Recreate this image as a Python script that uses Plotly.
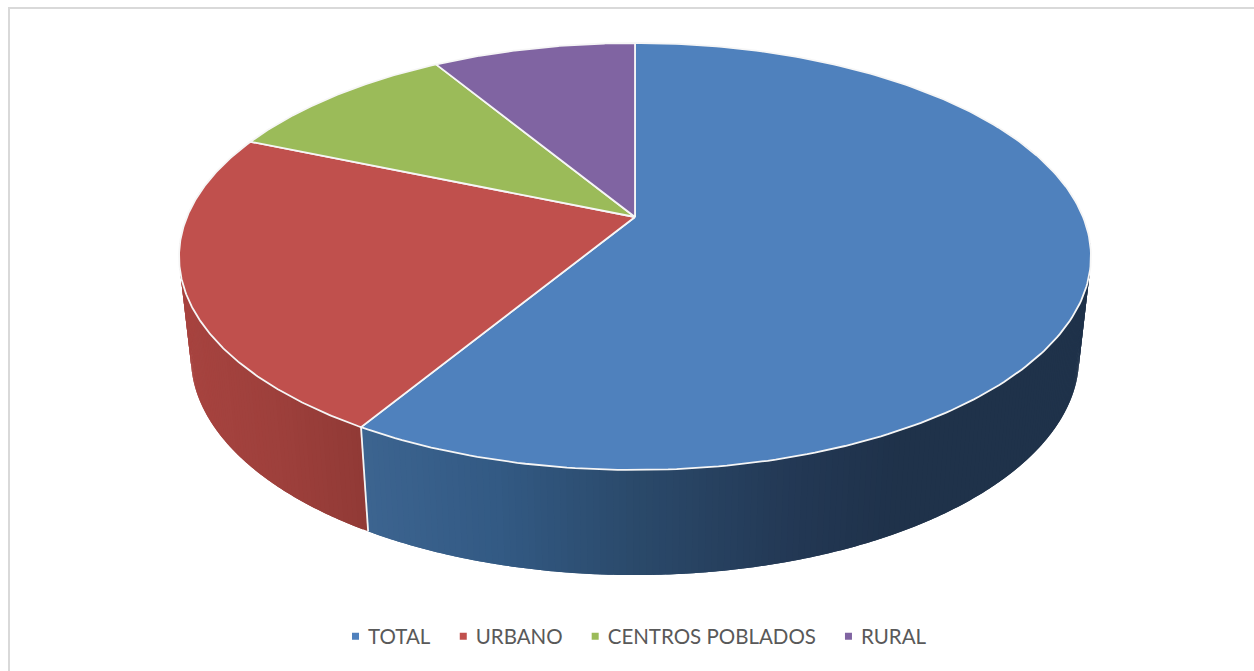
import numpy as np
import plotly.graph_objects as go

categories = ["TOTAL", "URBANO", "CENTROS POBLADOS", "RURAL"]
values = [58.6, 22.8, 10.0, 8.6]
top_colors = ["#4f81bd", "#c0504d", "#9bbb59", "#8064a2"]
# side-face shading stops: (x position, colour rgb)
side_stops = {
    "TOTAL": ([361, 500, 635, 800, 900, 1090],
              [(61, 101, 145), (51, 90, 132), (43, 74, 107), (35, 56, 84), (31, 50, 74), (31, 50, 74)]),
    "URBANO": ([180, 280, 368],
               [(168, 68, 64), (158, 64, 60), (145, 58, 54)]),
}

# projection of the tilted disc into the page
CX, CY = 635.0, 217.0     # apex of the top face
KP = 0.1850
AP, BP = 448.1, 206.2
SBX, SBY, CYB = 0.974, 1.02, 317.0    # bottom face scale and apex height


def project(theta):
    """theta: clockwise angle from 12 o'clock, radians."""
    X, Y = np.sin(theta), -np.cos(theta)
    w = 1 - KP * Y
    return AP * X / w, BP * Y / w


def top_xy(theta):
    dx, dy = project(theta)
    return CX + dx, CY + dy


def bottom_xy(theta):
    dx, dy = project(theta)
    return CX + SBX * dx, CYB + SBY * dy


fig = go.Figure()
bounds = np.concatenate([[0], np.cumsum(values)]) / sum(values) * 2 * np.pi

# side faces (front half only), as thin shaded overlapping strips
for i, name in enumerate(categories):
    if name not in side_stops:
        continue
    xs_stop, cols = side_stops[name]
    cols = np.array(cols, float)
    a0, a1 = bounds[i], bounds[i + 1]
    lo = max(a0, np.radians(60))
    hi = min(a1, np.radians(300))
    n = int((hi - lo) / np.radians(0.7)) + 1
    edges = np.linspace(lo, hi, n + 1)
    step = edges[1] - edges[0]
    for t0, t1 in zip(edges[:-1], edges[1:]):
        tt = np.linspace(t0, min(t1 + step, hi), 4)
        xt, yt = top_xy(tt)
        xb, yb = bottom_xy(tt[::-1])
        xm = (top_xy((t0 + t1) / 2)[0] + bottom_xy((t0 + t1) / 2)[0]) / 2
        c = [np.interp(xm, xs_stop, cols[:, k]) for k in range(3)]
        col = "rgb(%d,%d,%d)" % tuple(c)
        fig.add_trace(go.Scatter(
            x=np.r_[xt, xb, xt[0]], y=np.r_[yt, yb, yt[0]],
            mode="none", fill="toself", fillcolor=col,
            showlegend=False, hoverinfo="skip"))

# white seam between the two visible side faces
seam = bounds[1]
sx0, sy0 = top_xy(seam)
sx1, sy1 = bottom_xy(seam)
fig.add_trace(go.Scatter(x=[sx0, sx1], y=[sy0, sy1], mode="lines",
                         line=dict(color="#f4f4f4", width=1.8),
                         showlegend=False, hoverinfo="skip"))

# top faces
for i, name in enumerate(categories):
    tt = np.linspace(bounds[i], bounds[i + 1], 240)
    x, y = top_xy(tt)
    fig.add_trace(go.Scatter(
        x=np.r_[CX, x, CX], y=np.r_[CY, y, CY],
        mode="lines", fill="toself", fillcolor=top_colors[i],
        line=dict(color="#f6f6f6", width=1.8), name=name,
        showlegend=False, hovertemplate=name + ": %{text}%<extra></extra>",
        text=[values[i]] * 242))

# legend entries
for name, col in zip(categories, top_colors):
    fig.add_trace(go.Scatter(x=[None], y=[None], mode="markers", name=name,
                             marker=dict(symbol="square", size=7, color=col)))

fig.update_layout(
    width=1254, height=671,
    margin=dict(l=0, r=0, t=0, b=0),
    paper_bgcolor="white", plot_bgcolor="white",
    xaxis=dict(range=[0, 1254], visible=False, fixedrange=True),
    yaxis=dict(range=[671, 0], visible=False, fixedrange=True),
    legend=dict(orientation="h", xanchor="center", x=0.5024, yanchor="middle", y=0.0514,
                font=dict(family="Lato", size=20.5, color="#595959"),
                itemwidth=30, bgcolor="rgba(0,0,0,0)"),
    shapes=[
        dict(type="line", xref="x", yref="y", x0=9, x1=9, y0=8, y1=671,
             line=dict(color="#d9d9d9", width=2)),
        dict(type="line", xref="x", yref="y", x0=8, x1=1254, y0=8, y1=8,
             line=dict(color="#d9d9d9", width=2)),
    ],
)

post = """
document.body.style.margin = '0';
document.documentElement.style.overflow = 'hidden';
document.querySelectorAll('.legend .legendpoints').forEach(function (g) {
    g.setAttribute('transform', 'translate(7.5,0)');
});
"""
fig.write_html("out.html", post_script=post, config={"displayModeBar": False})
